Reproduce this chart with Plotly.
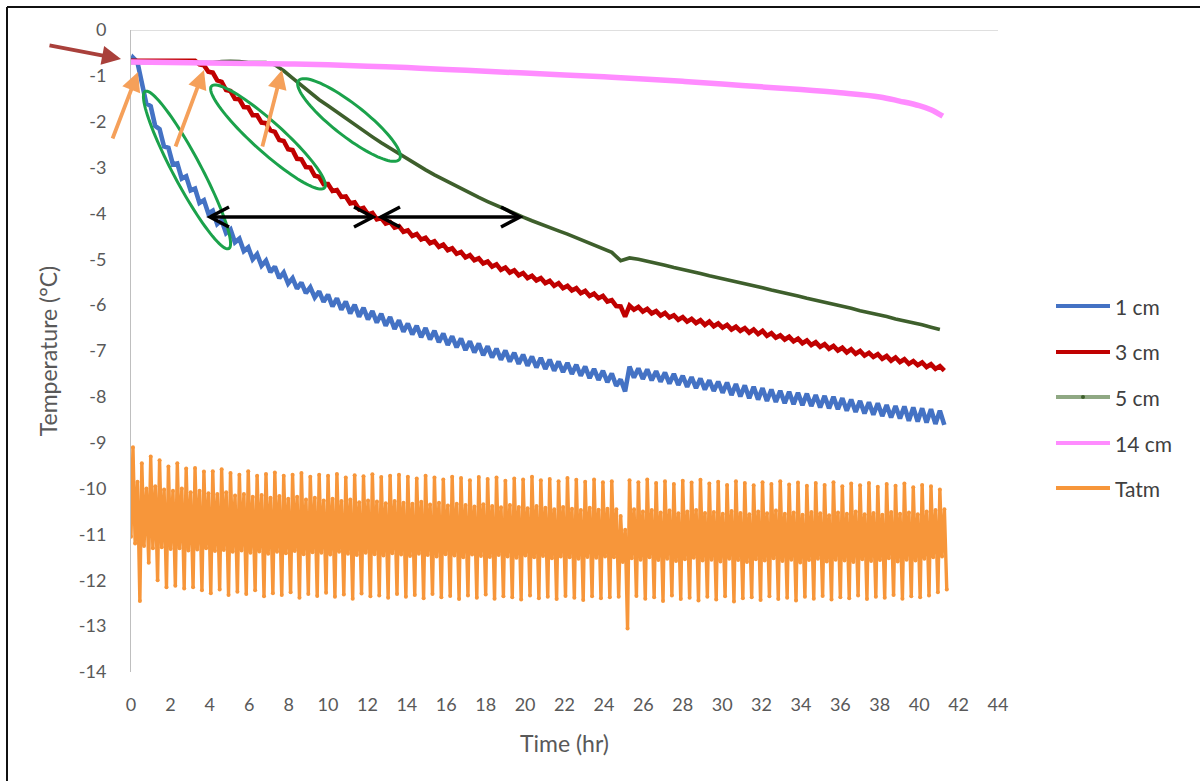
import math
import numpy as np
import plotly.graph_objects as go

# ---------------------------------------------------------------------------
# Freezing test: soil temperature at three depths, deep probe and air (Tatm)
# Readings are kept per refrigeration cycle (~0.45 h): the turning points of
# each cycle.
# ---------------------------------------------------------------------------
CYCLE_HR = 0.45
N_CYCLES = 92
t_peak = np.round(0.10 + CYCLE_HR * np.arange(N_CYCLES), 3)
t_trough = np.round(t_peak + CYCLE_HR / 2, 3)

# air temperature turning points within each cycle (degC):
# peak -> lower shoulder -> upper shoulder -> trough
TATM_START = -11.05
TATM_PEAK = [
    -9.10, -9.45, -9.30, -9.38, -9.52, -9.45, -9.56, -9.55, -9.63, -9.62, -9.58,
    -9.66, -9.70, -9.62, -9.72, -9.68, -9.65, -9.72, -9.70, -9.66, -9.74,
    -9.70, -9.72, -9.68, -9.76, -9.71, -9.73, -9.69, -9.75, -9.72, -9.70,
    -9.74, -9.78, -9.72, -9.76, -9.80, -9.74, -9.77, -9.82, -9.75, -9.79,
    -9.76, -9.83, -9.78, -9.80, -9.74, -9.82, -9.79, -9.84, -9.77, -9.81,
    -9.85, -9.80, -9.86,
    -9.84, -10.60,
    -9.82, -9.86, -9.80, -9.88, -9.84, -9.90, -9.83, -9.87, -9.81, -9.89,
    -9.85, -9.92, -9.84, -9.88, -9.93, -9.86, -9.90, -9.84, -9.91, -9.87,
    -9.94, -9.88, -9.92, -9.86, -9.95, -9.89, -9.93, -9.88, -9.96, -9.90,
    -9.94, -9.89, -9.97, -9.92, -9.95, -10.02,
]
TATM_SHOULDER_LO = [
    -11.20, -11.25, -11.30, -11.28, -11.32, -11.30, -11.35, -11.33, -11.30, -11.36, -11.34,
    -11.38, -11.35, -11.40, -11.37, -11.42, -11.38, -11.41, -11.36, -11.43, -11.39,
    -11.40, -11.44, -11.38, -11.42, -11.45, -11.40, -11.43, -11.46, -11.41, -11.44,
    -11.47, -11.42, -11.45, -11.48, -11.43, -11.46, -11.50, -11.44, -11.47, -11.49,
    -11.45, -11.48, -11.51, -11.46, -11.50, -11.47, -11.52, -11.48, -11.50, -11.53,
    -11.49, -11.51, -11.48,
    -11.50, -11.60,
    -11.52, -11.55, -11.50, -11.56, -11.53, -11.58, -11.54, -11.51, -11.57, -11.55,
    -11.59, -11.53, -11.56, -11.60, -11.54, -11.57, -11.52, -11.58, -11.55, -11.61,
    -11.56, -11.53, -11.59, -11.55, -11.57, -11.60, -11.54, -11.58, -11.56, -11.52,
    -11.59, -11.55, -11.57, -11.53, -11.50, -11.48,
]
TATM_SHOULDER_HI = [
    -9.85, -10.00, -9.95, -10.02, -10.05, -10.00, -10.08, -10.05, -10.10, -10.12, -10.08,
    -10.15, -10.12, -10.18, -10.14, -10.20, -10.16, -10.22, -10.18, -10.24, -10.20,
    -10.26, -10.22, -10.27, -10.24, -10.30, -10.26, -10.28, -10.32, -10.27, -10.31,
    -10.33, -10.29, -10.35, -10.31, -10.37, -10.33, -10.36, -10.39, -10.34, -10.38,
    -10.41, -10.36, -10.40, -10.43, -10.38, -10.42, -10.45, -10.40, -10.44, -10.47,
    -10.42, -10.46, -10.44,
    -10.45, -10.90,
    -10.45, -10.50, -10.47, -10.52, -10.48, -10.54, -10.50, -10.47, -10.53, -10.51,
    -10.55, -10.49, -10.53, -10.56, -10.50, -10.54, -10.48, -10.55, -10.52, -10.57,
    -10.51, -10.54, -10.58, -10.52, -10.55, -10.50, -10.56, -10.53, -10.57, -10.51,
    -10.55, -10.52, -10.56, -10.50, -10.47, -10.45,
]
TATM_TROUGH = [
    -12.45, -11.62, -12.00, -12.15, -12.12, -12.18, -12.15, -12.22, -12.28, -12.20, -12.32,
    -12.25, -12.30, -12.22, -12.35, -12.28, -12.32, -12.26, -12.38, -12.30, -12.34,
    -12.27, -12.36, -12.31, -12.40, -12.29, -12.35, -12.33, -12.38, -12.30, -12.36,
    -12.32, -12.39, -12.30, -12.37, -12.34, -12.41, -12.33, -12.38, -12.31, -12.40,
    -12.35, -12.37, -12.42, -12.33, -12.39, -12.36, -12.41, -12.34, -12.38, -12.43,
    -12.35, -12.39, -12.37,
    -12.36, -13.05,
    -12.34, -12.40, -12.37, -12.45, -12.33, -12.41, -12.38, -12.44, -12.36, -12.42,
    -12.35, -12.46, -12.39, -12.37, -12.43, -12.35, -12.41, -12.38, -12.44, -12.36,
    -12.40, -12.34, -12.42, -12.37, -12.39, -12.33, -12.41, -12.36, -12.38, -12.32,
    -12.40, -12.35, -12.37, -12.33, -12.26, -12.20,
]

# 1 cm depth
D1_START = -0.70
D1_HI = [
    -0.60, -1.15, -1.66, -2.16, -2.57, -2.91, -3.19, -3.46, -3.71, -3.94,
    -4.15, -4.35, -4.55, -4.74, -4.89, -5.03, -5.16, -5.29, -5.41, -5.51,
    -5.61, -5.70, -5.77, -5.85, -5.92, -5.99, -6.06, -6.13, -6.19, -6.26,
    -6.33, -6.40, -6.45, -6.50, -6.56, -6.62, -6.68, -6.73, -6.79, -6.84,
    -6.90, -6.95, -6.99, -7.04, -7.08, -7.12, -7.15, -7.19, -7.23, -7.26,
    -7.30, -7.34, -7.39, -7.43, -7.49, -7.62, -7.34, -7.38, -7.40, -7.44,
    -7.47, -7.50, -7.54, -7.57, -7.60, -7.64, -7.67, -7.69, -7.72, -7.75,
    -7.78, -7.81, -7.84, -7.87, -7.89, -7.91, -7.93, -7.96, -7.98, -8.00,
    -8.03, -8.06, -8.09, -8.12, -8.14, -8.18, -8.20, -8.21, -8.23, -8.25,
    -8.27, -8.30,
]
D1_LO = [
    -0.70, -1.60, -2.09, -2.54, -2.93, -3.24, -3.50, -3.77, -4.00, -4.23,
    -4.43, -4.63, -4.82, -5.00, -5.14, -5.28, -5.41, -5.53, -5.64, -5.74,
    -5.83, -5.93, -6.03, -6.10, -6.18, -6.25, -6.31, -6.38, -6.45, -6.52,
    -6.58, -6.64, -6.70, -6.75, -6.81, -6.87, -6.92, -6.98, -7.03, -7.09,
    -7.14, -7.19, -7.23, -7.28, -7.32, -7.36, -7.39, -7.43, -7.46, -7.50,
    -7.54, -7.59, -7.63, -7.68, -7.76, -7.88, -7.58, -7.61, -7.64, -7.67,
    -7.71, -7.74, -7.78, -7.81, -7.84, -7.87, -7.91, -7.96, -7.99, -8.03,
    -8.06, -8.09, -8.11, -8.14, -8.16, -8.18, -8.20, -8.23, -8.25, -8.27,
    -8.30, -8.33, -8.36, -8.39, -8.42, -8.45, -8.47, -8.52, -8.54, -8.56,
    -8.59, -8.61,
]

# 3 cm depth
D3_START = -0.67
D3_HI = [
    -0.67, -0.65, -0.65, -0.65, -0.65, -0.66, -0.67, -0.67, -0.77, -0.93,
    -1.13, -1.33, -1.51, -1.69, -1.86, -2.03, -2.22, -2.42, -2.62, -2.82,
    -3.00, -3.20, -3.36, -3.49, -3.63, -3.76, -3.88, -3.99, -4.10, -4.19,
    -4.28, -4.37, -4.45, -4.53, -4.61, -4.68, -4.76, -4.84, -4.91, -4.98,
    -5.05, -5.11, -5.18, -5.24, -5.30, -5.36, -5.41, -5.47, -5.52, -5.58,
    -5.63, -5.69, -5.75, -5.80, -5.89, -6.03, -6.01, -6.04, -6.08, -6.13,
    -6.17, -6.22, -6.26, -6.30, -6.33, -6.36, -6.40, -6.43, -6.47, -6.50,
    -6.53, -6.56, -6.61, -6.66, -6.69, -6.73, -6.77, -6.81, -6.85, -6.89,
    -6.93, -6.96, -7.00, -7.04, -7.07, -7.11, -7.14, -7.18, -7.22, -7.25,
    -7.29, -7.33,
]
D3_LO = [
    -0.67, -0.65, -0.65, -0.65, -0.65, -0.66, -0.67, -0.75, -0.91, -1.10,
    -1.31, -1.50, -1.68, -1.86, -2.02, -2.19, -2.40, -2.60, -2.81, -2.99,
    -3.18, -3.36, -3.51, -3.64, -3.78, -3.91, -4.02, -4.13, -4.22, -4.31,
    -4.40, -4.49, -4.57, -4.65, -4.73, -4.80, -4.88, -4.96, -5.02, -5.09,
    -5.16, -5.23, -5.29, -5.35, -5.41, -5.46, -5.52, -5.58, -5.63, -5.68,
    -5.74, -5.80, -5.85, -5.92, -6.02, -6.25, -6.10, -6.14, -6.18, -6.23,
    -6.27, -6.32, -6.36, -6.39, -6.43, -6.46, -6.49, -6.53, -6.56, -6.60,
    -6.63, -6.67, -6.71, -6.75, -6.79, -6.83, -6.87, -6.91, -6.95, -6.99,
    -7.03, -7.06, -7.10, -7.13, -7.17, -7.21, -7.24, -7.28, -7.31, -7.35,
    -7.39, -7.43,
]

# 5 cm depth (one reading per cycle)
D5_START = -0.71
D5 = [
    -0.71, -0.71, -0.71, -0.71, -0.71, -0.71, -0.71, -0.71, -0.71, -0.71,
    -0.69, -0.68, -0.69, -0.71, -0.71, -0.71, -0.76, -0.89, -1.05, -1.21,
    -1.36, -1.52, -1.65, -1.79, -1.92, -2.06, -2.19, -2.33, -2.46, -2.58,
    -2.71, -2.82, -2.94, -3.05, -3.16, -3.26, -3.37, -3.47, -3.56, -3.65,
    -3.74, -3.83, -3.92, -4.01, -4.08, -4.16, -4.24, -4.31, -4.38, -4.45,
    -4.53, -4.61, -4.69, -4.77, -4.85, -5.03, -4.97, -5.00, -5.04, -5.08,
    -5.13, -5.18, -5.22, -5.26, -5.31, -5.36, -5.40, -5.44, -5.49, -5.53,
    -5.58, -5.62, -5.67, -5.71, -5.76, -5.80, -5.85, -5.89, -5.94, -5.98,
    -6.03, -6.07, -6.12, -6.16, -6.21, -6.25, -6.30, -6.34, -6.39, -6.43,
    -6.48, -6.53,
]

# 14 cm depth (slow, logged every ~2 h)
D14_T = [0, 2, 4, 6, 8, 10, 12, 14, 16, 18, 20, 22, 24, 26, 28, 30, 32, 34,
         36, 38, 39, 40, 40.6, 41.2]
D14 = [-0.70, -0.71, -0.72, -0.73, -0.74, -0.76, -0.79, -0.82, -0.86, -0.90,
       -0.94, -0.98, -1.02, -1.07, -1.12, -1.18, -1.24, -1.30, -1.37, -1.46,
       -1.55, -1.65, -1.74, -1.88]

X_TICKS = list(range(0, 45, 2))
Y_TICKS = list(range(-14, 1))


def cycle_series(start, hi, lo):
    xs, ys = [0.0], [start]
    for k in range(len(hi)):
        xs += [float(t_peak[k]), float(t_trough[k])]
        ys += [hi[k], lo[k]]
    return xs, ys


def air_series():
    # time offsets of the turning points inside one cycle (h)
    offs = (0.0, 0.11, 0.23, 0.35)
    xs, ys = [0.0], [TATM_START]
    for k in range(N_CYCLES):
        vals = (TATM_PEAK[k], TATM_SHOULDER_LO[k], TATM_SHOULDER_HI[k], TATM_TROUGH[k])
        for o, v in zip(offs, vals):
            xs.append(round(float(t_peak[k]) + o, 3))
            ys.append(v)
    return xs, ys


# ---------------------------------------------------------------------------
# page geometry (pixels) used to place the hand-drawn callouts
# ---------------------------------------------------------------------------
W, H = 1200, 781
L, R, T, B = 131, 998, 30, 672
X0, X1 = 0, 44
Y0, Y1 = -14, 0


def dx(px):
    return X0 + (px - L) / (R - L) * (X1 - X0)


def dy(py):
    return Y1 - (py - T) / (B - T) * (Y1 - Y0)


def paper_x(px):
    return (px - L) / (R - L)


def paper_y(py):
    return (B - py) / (B - T)


C_BLUE = "#4472C4"
C_RED = "#C00000"
C_GREEN = "#3E5F2C"
C_GREEN_LEG = "#8FA883"
C_PINK = "#FF8CFF"
C_ORANGE = "#F7963A"
TXT = "#595959"
FONT = "Lato, 'Open Sans', sans-serif"

fig = go.Figure()

x1, y1 = cycle_series(D1_START, D1_HI, D1_LO)
x3, y3 = cycle_series(D3_START, D3_HI, D3_LO)
xa, ya = air_series()
x5 = [0.0] + [float(v) for v in t_peak]
y5 = [D5_START] + D5

fig.add_trace(go.Scatter(x=x1, y=y1, mode="lines", name="1 cm",
                         line=dict(color=C_BLUE, width=4.6), showlegend=False))
fig.add_trace(go.Scatter(x=x3, y=y3, mode="lines", name="3 cm",
                         line=dict(color=C_RED, width=4.6), showlegend=False))
fig.add_trace(go.Scatter(x=x5, y=y5, mode="lines", name="5 cm",
                         line=dict(color=C_GREEN, width=3.6), showlegend=False))
fig.add_trace(go.Scatter(x=D14_T, y=D14, mode="lines", name="14 cm",
                         line=dict(color=C_PINK, width=5.5, shape="spline"),
                         showlegend=False))
fig.add_trace(go.Scatter(x=xa, y=ya, mode="lines+markers", name="Tatm",
                         line=dict(color=C_ORANGE, width=3.4),
                         marker=dict(color=C_ORANGE, size=4), showlegend=False))

shapes = []
annotations = []

# axis line along 0 degC at the top of the plot
shapes.append(dict(type="line", xref="x", yref="y", x0=0, x1=44, y0=0, y1=0,
                   line=dict(color="#BFBFBF", width=1)))

# outer frame of the figure (left and top edges)
shapes.append(dict(type="line", xref="paper", yref="paper",
                   x0=paper_x(7), x1=paper_x(7), y0=paper_y(7), y1=paper_y(H + 2),
                   line=dict(color="#111111", width=2)))
shapes.append(dict(type="line", xref="paper", yref="paper",
                   x0=paper_x(7), x1=paper_x(W + 2), y0=paper_y(7), y1=paper_y(7),
                   line=dict(color="#111111", width=2)))

# green ellipses around the steep cooling stretches
ELLIPSES = [  # centre px, half-length, half-width, tilt (deg, downward)
    ((187, 170), 89, 14, 62),
    ((268, 137), 76, 15, 42),
    ((349, 120), 64, 16, 38),
]
for (cx, cy), a, b, ang in ELLIPSES:
    phi = math.radians(ang)
    pts = []
    for i in range(97):
        th = 2 * math.pi * i / 96
        px = cx + a * math.cos(th) * math.cos(phi) - b * math.sin(th) * math.sin(phi)
        py = cy + a * math.cos(th) * math.sin(phi) + b * math.sin(th) * math.cos(phi)
        pts.append(f"{dx(px):.4f},{dy(py):.4f}")
    shapes.append(dict(type="path", xref="x", yref="y",
                       path="M " + " L ".join(pts) + " Z",
                       line=dict(color="#1BA24B", width=3)))


# black double-headed arrows marking the lag between depths
def double_arrow(xa_px, xb_px, y_px):
    shapes.append(dict(type="line", xref="x", yref="y",
                       x0=dx(xa_px), x1=dx(xb_px), y0=dy(y_px), y1=dy(y_px),
                       line=dict(color="black", width=3.5)))
    for tip, sgn in ((xa_px, 1), (xb_px, -1)):
        path = (f"M {dx(tip + sgn * 19):.4f},{dy(y_px - 10):.4f} "
                f"L {dx(tip):.4f},{dy(y_px):.4f} "
                f"L {dx(tip + sgn * 19):.4f},{dy(y_px + 10):.4f}")
        shapes.append(dict(type="path", xref="x", yref="y", path=path,
                           line=dict(color="black", width=3.5)))


double_arrow(210, 373, 217)
double_arrow(381, 520, 217)

# pointer arrows (tail px -> tip px)
ARROWS = [
    ((48, 45), (121, 59), "#A9403B"),
    ((112, 140), (138, 72), "#F5A05A"),
    ((175, 148), (204, 70), "#F5A05A"),
    ((262, 148), (282, 70), "#F5A05A"),
]
for (tx, ty), (hx, hy), col in ARROWS:
    annotations.append(dict(x=paper_x(hx), y=paper_y(hy), xref="paper", yref="paper",
                            ax=tx - hx, ay=ty - hy, axref="pixel", ayref="pixel",
                            text="", showarrow=True, arrowhead=2, arrowsize=1.0,
                            arrowwidth=3.8, arrowcolor=col, standoff=0))

# legend drawn beside the plot
LEGEND = [("1 cm", C_BLUE, 306), ("3 cm", C_RED, 352), ("5 cm", C_GREEN_LEG, 397),
          ("14 cm", C_PINK, 443), ("Tatm", C_ORANGE, 488)]
for label, col, py in LEGEND:
    shapes.append(dict(type="line", xref="paper", yref="paper",
                       x0=paper_x(1056), x1=paper_x(1110), y0=paper_y(py), y1=paper_y(py),
                       line=dict(color=col, width=4)))
    annotations.append(dict(x=paper_x(1113), y=paper_y(py), xref="paper", yref="paper",
                            text=label, showarrow=False, xanchor="left", yanchor="middle",
                            font=dict(family=FONT, size=21, color="#404040")))
shapes.append(dict(type="circle", xref="paper", yref="paper",
                   x0=paper_x(1081), x1=paper_x(1085), y0=paper_y(399), y1=paper_y(395),
                   fillcolor=C_GREEN, line=dict(width=0)))

fig.update_layout(
    width=W, height=H,
    margin=dict(l=L, r=W - R, t=T, b=H - B),
    paper_bgcolor="white", plot_bgcolor="white",
    showlegend=False,
    font=dict(family=FONT, color=TXT, size=18),
    shapes=shapes, annotations=annotations,
    xaxis=dict(range=[X0, X1], tickvals=X_TICKS, ticktext=[str(v) for v in X_TICKS],
               showgrid=False, zeroline=False, showline=False, ticks="",
               ticklabelstandoff=20,
               tickfont=dict(family=FONT, size=18, color=TXT),
               title=dict(text="Time (hr)", standoff=21,
                          font=dict(family=FONT, size=23, color=TXT))),
    yaxis=dict(range=[Y0, Y1], tickvals=Y_TICKS, ticktext=[str(v) for v in Y_TICKS],
               showgrid=False, zeroline=False, showline=True, linecolor="#BFBFBF",
               linewidth=1, ticks="", ticklabelstandoff=20,
               tickfont=dict(family=FONT, size=18, color=TXT),
               title=dict(text="Temperature (°C)", standoff=14,
                          font=dict(family=FONT, size=23, color=TXT))),
)

fig.write_html("out.html")
